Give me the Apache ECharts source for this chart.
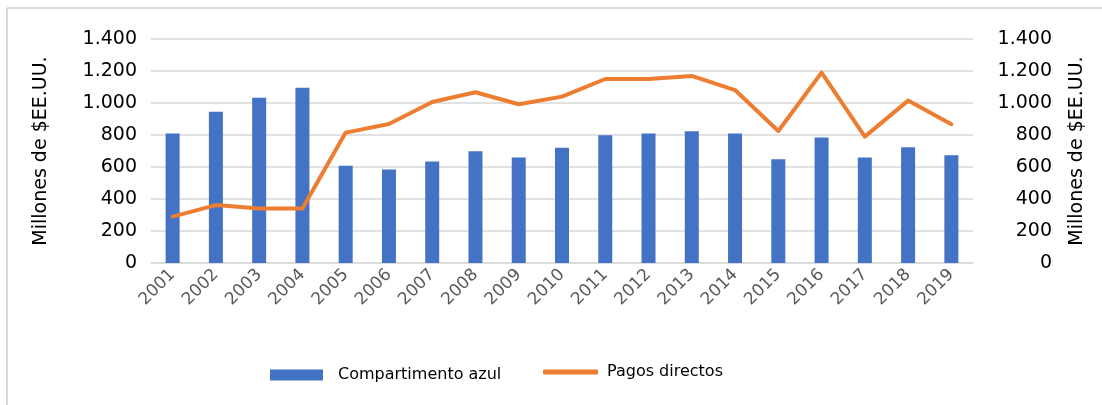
<!DOCTYPE html>
<html>
<head>
<meta charset="utf-8">
<script src="https://cdn.jsdelivr.net/npm/echarts@6/dist/echarts.min.js"></script>
<style>html,body{margin:0;padding:0;background:#fff;}#c{width:1102px;height:405px;}</style>
</head>
<body>
<div id="c"></div>
<script>
const years = ['2001','2002','2003','2004','2005','2006','2007','2008','2009','2010','2011','2012','2013','2014','2015','2016','2017','2018','2019'];
const compartimentoAzul = [810, 946, 1033, 1096, 608, 585, 635, 698, 660, 721, 798, 810, 823, 810, 648, 785, 660, 723, 673];
const pagosDirectos = [290, 362, 341, 341, 815, 869, 1006, 1067, 992, 1040, 1150, 1150, 1169, 1081, 825, 1190, 790, 1015, 867];
const yTickLabels = ['0', '200', '400', '600', '800', '1.000', '1.200', '1.400'];
const axisTitle = 'Millones de $EE.UU.';

const font = 'DejaVu Sans';
const chart = echarts.init(document.getElementById('c'), null, {renderer: 'canvas'});
const fmt = v => yTickLabels[Math.round(v / 200)];
chart.setOption({
  animation: false,
  backgroundColor: '#ffffff',
  textStyle: {fontFamily: font},
  grid: {left: 151, right: 129, top: 39, bottom: 142},
  graphic: [
    {type: 'line', shape: {x1: 7, y1: 8, x2: 7, y2: 405}, style: {stroke: '#d9d9d9', lineWidth: 2}},
    {type: 'line', shape: {x1: 7, y1: 8, x2: 1102, y2: 8}, style: {stroke: '#d9d9d9', lineWidth: 2}}
  ],
  legend: [
    {data: [{name: 'Compartimento azul', icon: 'rect'}], left: 270, top: 367, padding: 0, itemWidth: 53, itemHeight: 11,
     textStyle: {fontFamily: font, fontSize: 16, color: '#000', padding: [0, 0, 0, 10], lineHeight: 16}},
    {data: [{name: 'Pagos directos', icon: 'roundRect'}], left: 543, top: 364, padding: 0, itemWidth: 55, itemHeight: 5,
     textStyle: {fontFamily: font, fontSize: 16, color: '#000', padding: [0, 0, 0, 4], lineHeight: 16}}
  ],
  xAxis: {
    type: 'category', data: years,
    axisLine: {lineStyle: {color: '#d9d9d9', width: 1.5}},
    axisTick: {show: false},
    axisLabel: {rotate: 45, interval: 0, fontFamily: font, fontSize: 17, color: '#595959', margin: 9}
  },
  yAxis: [
    {type: 'value', min: 0, max: 1400, interval: 200,
     name: axisTitle, nameLocation: 'middle', nameRotate: 90, nameGap: 100,
     nameTextStyle: {fontFamily: font, fontSize: 19, color: '#000'},
     axisLabel: {formatter: fmt, fontFamily: font, fontSize: 19, color: '#000', margin: 14},
     splitLine: {lineStyle: {color: '#d9d9d9', width: 1.5}},
     axisLine: {show: false}, axisTick: {show: false}},
    {type: 'value', min: 0, max: 1400, interval: 200, position: 'right',
     name: axisTitle, nameLocation: 'middle', nameRotate: 90, nameGap: 95,
     nameTextStyle: {fontFamily: font, fontSize: 19, color: '#000'},
     axisLabel: {formatter: fmt, fontFamily: font, fontSize: 19, color: '#000', margin: 79, align: 'right'},
     splitLine: {show: false},
     axisLine: {show: false}, axisTick: {show: false}}
  ],
  series: [
    {name: 'Compartimento azul', type: 'bar', data: compartimentoAzul, barWidth: 14,
     itemStyle: {color: '#4472C4'}, yAxisIndex: 0},
    {name: 'Pagos directos', type: 'line', data: pagosDirectos, yAxisIndex: 1,
     showSymbol: false, symbol: 'none',
     lineStyle: {color: '#ED7D31', width: 4, join: 'round', cap: 'round'},
     itemStyle: {color: '#ED7D31'}}
  ]
});
</script>
</body>
</html>
